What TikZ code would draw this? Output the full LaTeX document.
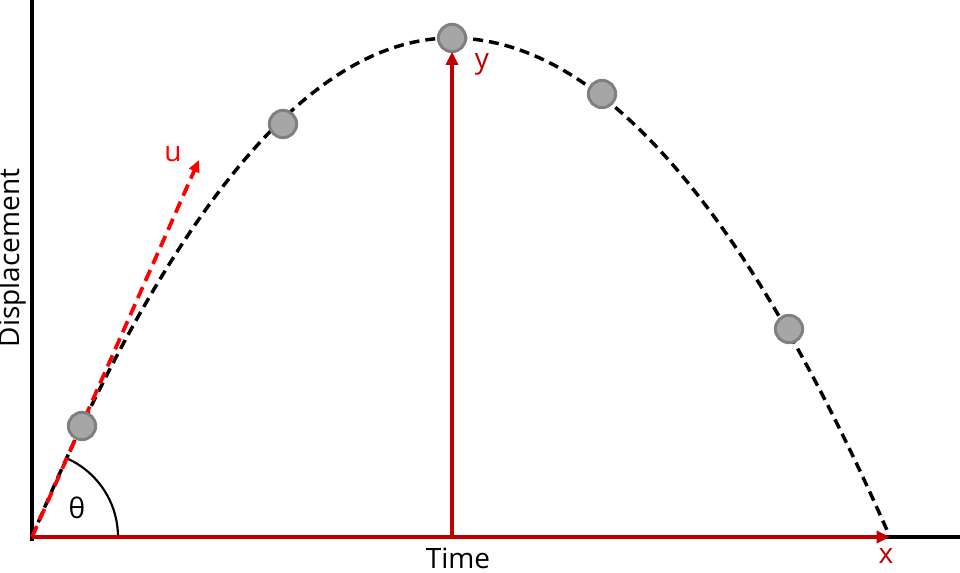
\documentclass[tikz,border=0pt]{standalone}
\usepackage{fontspec}
\setmainfont{Open Sans}
\usetikzlibrary{arrows.meta}
\definecolor{axisred}{HTML}{C00000}
\definecolor{ballgrey}{HTML}{A6A6A6}
\definecolor{ballrim}{HTML}{7F7F7F}
\tikzset{
	ball/.style={draw=ballrim,circle,fill=ballgrey,line width=2.2pt,inner sep=0,outer sep=0,minimum size=20.5pt},
	redarrow/.style={draw=axisred,line width=3.2pt,-{Triangle[length=10pt,width=9pt]}},
	lbl/.style={font=\fontsize{21pt}{25pt}\selectfont,inner sep=0}
}
\begin{document}
\begin{tikzpicture}[x=0.75pt,y=-0.75pt]
	\useasboundingbox (0,0) rectangle (960,573);
	\coordinate (o) at (32,537);
	\coordinate (top) at (452,38);
	\coordinate (land) at (890,537);
	% axes
	\draw[line width=2.4pt] (32,0) -- (32,541);
	\draw[line width=2.4pt] (o) -- (960,537);
	% flight path
	\draw[line width=2.6pt,dash pattern=on 7.5pt off 4.5pt] (o) .. controls (172,204.3) and (312,38) .. (top) .. controls (598,38) and (744,204.3) .. (land);
	% launch angle
	\draw[line width=1.6pt] (118,537) arc[start angle=0,end angle=-66,radius=86];
	\node[lbl] (theta) at (77,508) {θ};
	\coordinate (utip) at (199,160);
	\draw[red,line width=2.8pt,dash pattern=on 9pt off 5pt,-{Triangle[length=9pt,width=8pt]}] (o) -- (utip);
	\node[lbl,text=red] (u) at (173,154) {u};
	% balls
	\node[ball] (b1) at (82,426) {};
	\node[ball] (b2) at (283,124) {};
	\node[ball] (b3) at (top) {};
	\node[ball] (b4) at (602,94) {};
	\node[ball] (b5) at (789,329) {};
	% range and height
	\coordinate (foot) at (452,537);
	\draw[redarrow] (o) -- (land);
	\draw[redarrow] (foot) -- (b3);
	\node[lbl,text=axisred] (x) at (886,556) {x};
	\node[lbl,text=axisred] (y) at (482,64) {y};
	\node[lbl] (time) at (458,558) {Time};
	\node[lbl,rotate=90] (disp) at (12,258) {Displacement};
\end{tikzpicture}
\end{document}
